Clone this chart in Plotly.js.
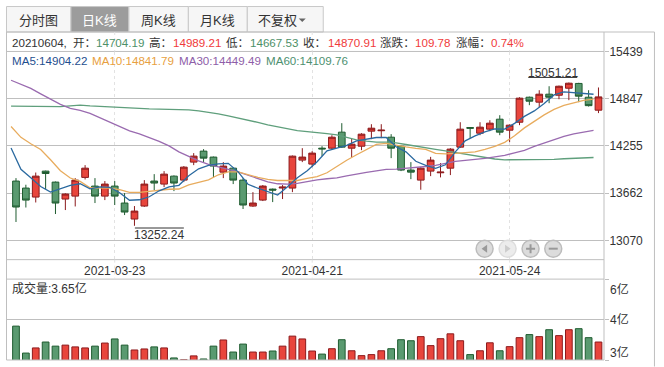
<!DOCTYPE html>
<html><head><meta charset="utf-8">
<script src="https://cdn.plot.ly/plotly-3.0.1.min.js"></script>
<style>html,body{margin:0;padding:0;background:#fff}#c{width:664px;height:367px}</style>
</head><body><div id="c"></div>
<script>
const dates=["2021-03-09","2021-03-10","2021-03-11","2021-03-12","2021-03-15","2021-03-16","2021-03-17","2021-03-18","2021-03-19","2021-03-22","2021-03-23","2021-03-24","2021-03-25","2021-03-26","2021-03-29","2021-03-30","2021-03-31","2021-04-01","2021-04-02","2021-04-06","2021-04-07","2021-04-08","2021-04-09","2021-04-12","2021-04-13","2021-04-14","2021-04-15","2021-04-16","2021-04-19","2021-04-20","2021-04-21","2021-04-22","2021-04-23","2021-04-26","2021-04-27","2021-04-28","2021-04-29","2021-04-30","2021-05-06","2021-05-07","2021-05-10","2021-05-11","2021-05-12","2021-05-13","2021-05-14","2021-05-17","2021-05-18","2021-05-19","2021-05-20","2021-05-21","2021-05-24","2021-05-25","2021-05-26","2021-05-27","2021-05-28","2021-05-31","2021-06-01","2021-06-02","2021-06-03","2021-06-04"];
const opens=[13814,13726,13613,13939,13801,13588,13625,13860,13751,13625,13751,13538,13337,13500,13814,13776,13876,13826,14052,14190,14115,13926,13976,13826,13500,13575,13713,13726,13726,14077,14027,14227,14227,14428,14227,14252,14441,14446,14365,14252,13952,13826,13939,13918,13976,14240,14486,14415,14466,14591,14453,14553,14867,14805,14905,14892,14980,15040,14867,14704.19];
const highs=[13851,13768,13921,13945,13808,13660,13851,14014,13851,13814,13814,13663,13500,13826,13901,13939,13885,14002,14165,14215,14122,14052,13985,13851,13675,13764,13720,13764,14135,14227,14190,14252,14390,14541,14345,14415,14528,14528,14403,14260,14052,13992,14118,14040,14227,14553,14491,14553,14578,14641,14525,14867,14875,14955,15005,15013,15051.21,15048,14955,14989.21];
const lows=[13300,13482,13545,13713,13400,13450,13495,13834,13538,13575,13513,13387,13252.24,13490,13701,13738,13688,13801,14014,14052,13864,13851,13776,13463,13490,13563,13550,13588,13675,14052,13989,14127,14215,14232,14115,14202,14340,14353,14102,13939,13838,13705,13876,13860,13889,14232,14353,14390,14441,14390,14303,14516,14767,14742,14792,14842,14830,14805,14750,14667.53];
const closes=[13488,13575,13876,13909,13538,13651,13826,13976,13625,13776,13625,13425,13437,13776,13789,13901,13789,13989,14127,14102,14002,14002,13826,13513,13538,13751,13701,13738,14127,14115,14165,14218,14365,14240,14277,14403,14478,14453,14227,13952,13926,13976,14077,13926,14215,14466,14478,14491,14541,14428,14516,14855,14817,14905,14867,15005,15043,14880,14761.13,14870.91];
const ma5=[14228,13962,13855,13746,13676,13717,13761,13780,13717,13742,13736,13667,13573,13579,13617,13692,13742,13761,13880,13968,14012,14031,14037,13930,13774,13724,13680,13638,13742,13855,13943,14056,14194,14225,14263,14319,14344,14361,14361,14244,14181,14062,14012,13974,14018,14181,14319,14382,14432,14470,14466,14539,14626,14695,14789,14896,14934,14927,14915,14904.22];
const ma10=[14499,14363,14282,14210,14081,13943,13852,13809,13730,13726,13726,13705,13673,13671,13686,13705,13711,13714,13767,13799,13830,13893,13930,13930,13893,13861,13836,13821,13821,13821,13849,13871,13918,13999,14075,14144,14213,14275,14288,14263,14244,14225,14213,14162,14156,14162,14169,14181,14213,14250,14300,14382,14482,14564,14645,14714,14764,14796,14827,14841.79];
const ma30=[15080,15028,14978,14909,14846,14777,14727,14702,14664,14608,14557,14501,14445,14407,14363,14313,14256,14181,14125,14068,14024,13993,13968,13930,13887,13843,13805,13780,13776,13786,13811,13830,13843,13855,13880,13905,13924,13943,13962,13964,13972,13984,13997,14012,14037,14062,14075,14085,14100,14119,14137,14169,14200,14250,14294,14338,14376,14407,14432,14449.49];
const ma60=[14754,14753,14752,14752,14751,14749,14758,14767,14758,14751,14742,14736,14731,14726,14721,14718,14717,14717,14708,14695,14679,14658,14633,14608,14583,14551,14520,14495,14470,14448,14436,14426,14411,14394,14363,14332,14315,14303,14303,14294,14273,14250,14231,14213,14194,14172,14150,14127,14106,14091,14081,14081,14081,14081,14085,14087,14094,14100,14106,14109.76];
const volumes=[4.27,3.22,3.42,3.65,3.49,3.53,3.46,3.42,3.49,3.61,3.77,3.53,3.34,3.38,3.46,3.42,3.03,2.96,3.11,2.99,3.49,3.73,3.26,3.57,3.26,3.26,3.30,3.49,3.88,3.77,3.30,3.18,3.39,3.74,3.31,3.12,3.16,3.31,3.39,3.74,3.70,3.86,3.51,3.78,3.97,3.70,3.16,3.31,3.62,3.31,3.47,3.82,3.94,3.86,4.13,3.90,4.13,4.17,3.82,3.65];
const priceTicks=[15439,14847,14255,13662,13070];
const dateTickIndex=[10,30,50];
const volTickVals=[2.95,4.53,6.1];
const volTickText=["3亿","4亿","6亿"];
const tabs=["分时图","日K线","周K线","月K线","不复权"];
const infoLabels=["20210604,","开：","14704.19","高：","14989.21","低：","14667.53","收：","14870.91","涨跌：","109.78","涨幅：","0.74%"];
const maLabels=["MA5:14904.22","MA10:14841.79","MA30:14449.49","MA60:14109.76"];
const volLabel="成交量:3.65亿";

const W=664,H=367,L=7,R=604.5,T=32,B=360.5;
const px=x=>(x-L)/(R-L), py=y=>(B-y)/(B-T);
const FONT='"Liberation Sans","Noto Sans CJK SC",sans-serif';
const UP='#e8453c',UPL='#8c1a1c',DN='#5a9a70',DNL='#1f5c30',GRID='#bfbfbf';
const C={ma5:'#2b6aa0',ma10:'#e8ac5e',ma30:'#9a6bb0',ma60:'#5f9f7c',t:'#333'};
const idx=dates.map((_,i)=>i), idxMa=idx.map(i=>i-0.5);

const traces=[
 {type:'candlestick',x:idx,open:opens,high:highs,low:lows,close:closes,xaxis:'x',yaxis:'y',whiskerwidth:0,
  increasing:{line:{color:UPL,width:1},fillcolor:UP},decreasing:{line:{color:DNL,width:1},fillcolor:DN},hoverinfo:'skip',showlegend:false},
 ...[[ma60,C.ma60],[ma30,C.ma30],[ma10,C.ma10],[ma5,C.ma5]].map(([v,c])=>({type:'scatter',mode:'lines',x:idxMa,y:v,xaxis:'x',yaxis:'y',line:{color:c,width:1.3},hoverinfo:'skip',showlegend:false})),
 {type:'bar',x:idx,y:volumes,xaxis:'x2',yaxis:'y2',width:0.68,
  marker:{color:idx.map(i=>closes[i]>=opens[i]?UP:DN),line:{color:idx.map(i=>closes[i]>=opens[i]?UPL:DNL),width:1}},hoverinfo:'skip',showlegend:false}
];

const shapes=[],ann=[];
const seg=(x0,y0,x1,y1,color,width,dash)=>shapes.push({type:'line',xref:'paper',yref:'paper',x0:px(x0),x1:px(x1),y0:py(y0),y1:py(y1),line:{color:color||GRID,width:width||1,dash:dash||'solid'},layer:'above'});
const txt=(s,x,y,o={})=>ann.push(Object.assign({text:s,xref:'paper',yref:'paper',x:px(x),y:py(y),xanchor:'left',yanchor:'middle',showarrow:false,align:'left',borderpad:0,font:{family:FONT,size:12,color:C.t}},o));

// tabs
const tabX=[6.5,71,129,188.5,247.5,323.5];
tabs.forEach((t,i)=>{
 shapes.push({type:'rect',xref:'paper',yref:'paper',x0:px(tabX[i]),x1:px(tabX[i+1]),y0:py(6.5),y1:py(32),fillcolor:i==1?'#9c9c9c':'#f6f6f6',line:{color:'#c8c8c8',width:1}});
 txt(t,i==4?278:(tabX[i]+tabX[i+1])/2,20,{xanchor:'center',font:{family:FONT,size:13,color:i==1?'#fff':C.t}});
});
shapes.push({type:'path',xref:'paper',yref:'paper',path:`M${px(299)},${py(18.5)} L${px(306)},${py(18.5)} L${px(302.5)},${py(22)} Z`,fillcolor:'#666',line:{width:0}});

// frame
seg(6.5,32,655,32); seg(6.5,32,6.5,360.5); seg(R,32,R,360.5); seg(655,32,655,367);
seg(6.5,51.5,R,51.5); seg(6.5,260,R,260); seg(6.5,279.5,R,279.5); seg(6.5,360.5,R,360.5);
dateTickIndex.forEach(i=>{
 const xi=16+i*9.881;
 [[32,51.7],[260,279.5]].forEach(([a,b])=>seg(xi,a,xi,b,'#e2e2e2',1,'dot'));
});

// info lines
const infoX=[11,72,95,148,172,225,249.5,302,327,379,414.5,455,490.5];
const infoC=[C.t,C.t,'#4d9068',C.t,'#f03a3a',C.t,'#4d9068',C.t,'#f03a3a',C.t,'#f03a3a',C.t,'#f03a3a'];
infoLabels.forEach((s,i)=>txt(s,infoX[i],42.5,{font:{family:FONT,size:11.6,color:infoC[i]}}));
const maX=[11,91,178,265],maC=['#1f4f8f','#e8a040','#8e5ea8','#4d9070'];
maLabels.forEach((s,i)=>txt(s,maX[i],61,{font:{family:FONT,size:11.6,color:maC[i]}}));
txt(volLabel,11,289);

// volume tick labels
const volLabelY=[353,320,290];
volTickText.forEach((s,i)=>txt(s,609.7,volLabelY[i]));

// high / low markers
ann.push({text:highs[56].toFixed(2),xref:'x',yref:'y',x:56,y:highs[56],xanchor:'center',yanchor:'middle',showarrow:false,xshift:-16,yshift:10,font:{family:FONT,size:12,color:C.t}});
ann.push({text:lows[12].toFixed(2),xref:'x',yref:'y',x:12,y:lows[12],xanchor:'center',yanchor:'middle',showarrow:false,xshift:25,yshift:-9,font:{family:FONT,size:12,color:C.t}});
seg(528.7,77.5,577.7,77.5,'#333',1);
seg(135,228.3,184,228.3,'#333',1);

// zoom buttons
const btnX=[485,508,531,553.7];
btnX.forEach((x,i)=>{
 const r=8.5;
 shapes.push({type:'circle',xref:'paper',yref:'paper',x0:px(x-r),x1:px(x+r),y0:py(249-r),y1:py(249+r),fillcolor:i==1?'#ececec':'#dcdcdc',line:{color:i==1?'#dddddd':'#bcbcbc',width:1.5},layer:'above'});
 const g=i==1?'#cccccc':'#999999';
 const a=4.5,b=1;
 let p;
 if(i==0)p=`M${px(x+2.5)},${py(245)} L${px(x-3)},${py(249)} L${px(x+2.5)},${py(253)} Z`;
 if(i==1)p=`M${px(x-2.5)},${py(245)} L${px(x+3)},${py(249)} L${px(x-2.5)},${py(253)} Z`;
 if(i==2)p=`M${px(x-a)},${py(248)} L${px(x-b)},${py(248)} L${px(x-b)},${py(249-a)} L${px(x+b)},${py(249-a)} L${px(x+b)},${py(248)} L${px(x+a)},${py(248)} L${px(x+a)},${py(250)} L${px(x+b)},${py(250)} L${px(x+b)},${py(249+a)} L${px(x-b)},${py(249+a)} L${px(x-b)},${py(250)} L${px(x-a)},${py(250)} Z`;
 if(i==3)p=`M${px(x-a)},${py(248)} L${px(x+a)},${py(248)} L${px(x+a)},${py(250)} L${px(x-a)},${py(250)} Z`;
 shapes.push({type:'path',xref:'paper',yref:'paper',path:p,fillcolor:g,line:{width:0},layer:'above'});
});

const d1=[py(260),py(51.7)],d2=[0,py(279.5)];
const layout={width:W,height:H,autosize:false,margin:{l:L,r:W-R,t:T,b:H-B,pad:0},paper_bgcolor:'#fff',plot_bgcolor:'rgba(0,0,0,0)',showlegend:false,
 font:{family:FONT,size:12,color:C.t},dragmode:false,bargap:0.28,boxgap:0.15,boxgroupgap:0.2,
 xaxis:{domain:[0,1],anchor:'y',range:[-0.911,59.56],rangeslider:{visible:false},tickmode:'array',tickvals:dateTickIndex,ticktext:dateTickIndex.map(i=>dates[i]),ticks:'',showline:false,zeroline:false,ticklabelstandoff:2,
  showgrid:true,gridcolor:'#e2e2e2',griddash:'dot',gridwidth:1,tickfont:{family:FONT,size:12,color:C.t},automargin:false},
 yaxis:{domain:d1,anchor:'x',side:'right',range:[12827,15439],tickmode:'array',tickvals:priceTicks,ticktext:priceTicks.map(String),ticks:'outside',ticklen:4,tickcolor:GRID,showline:false,zeroline:false,ticklabelstandoff:-2,
  showgrid:true,gridcolor:GRID,gridwidth:1,tickfont:{family:FONT,size:12,color:C.t},automargin:false},
 xaxis2:{domain:[0,1],anchor:'y2',range:[-0.911,59.56],showticklabels:false,ticks:'',showgrid:false,zeroline:false,showline:false},
 yaxis2:{domain:d2,anchor:'x2',side:'right',range:[2.95,6.1],tickmode:'array',tickvals:volTickVals,showticklabels:false,ticks:'outside',ticklen:4,tickcolor:GRID,showline:false,zeroline:false,showgrid:true,gridcolor:GRID,automargin:false},
 shapes:shapes,annotations:ann};
Plotly.newPlot('c',traces,layout,{displayModeBar:false,staticPlot:true,responsive:false});
</script></body></html>
